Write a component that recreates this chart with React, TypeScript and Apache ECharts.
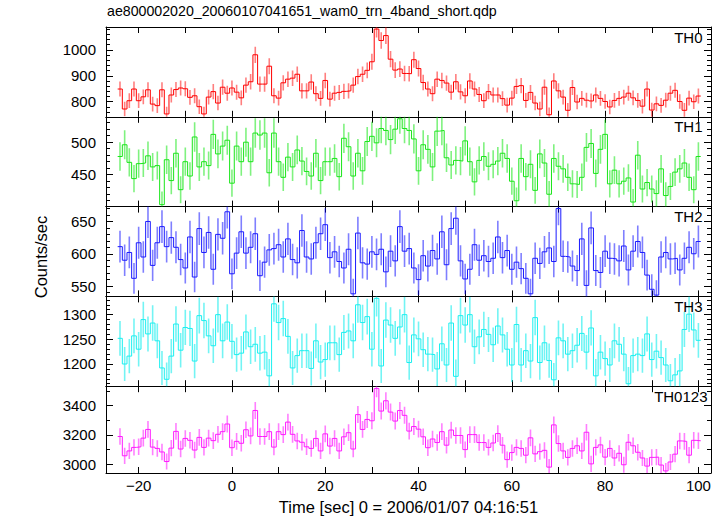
import React, { useEffect, useRef } from 'react';
import * as echarts from 'echarts';

const TITLE = 'ae800002020_20060107041651_wam0_trn_4band_short.qdp';
const X_NAME = 'Time [sec] 0 = 2006/01/07 04:16:51';
const Y_NAME = 'Counts/sec';
const T_START = -24; // centre of first 1-s bin
const BIN_SEC = 1;
const X_MIN = -27.0;
const X_MAX = 102.7;

const TH0 = [
  849, 772, 804, 849, 804, 819, 846, 791, 785, 846, 753, 826, 847, 853, 850, 817, 823, 781, 753, 818,
  839, 795, 856, 833, 853, 837, 815, 864, 877, 981, 868, 868, 937, 823, 814, 873, 887, 891, 906,
  842, 842, 876, 831, 813, 882, 810, 833, 836, 840, 842, 864, 897, 906, 921, 954, 1080, 1036, 1055, 964,
  922, 926, 909, 908, 962, 928, 874, 849, 831, 887, 882, 872, 837, 877, 838, 823, 880, 849, 828, 804, 839, 826,
  826, 812, 787, 814, 859, 862, 805, 836, 795, 772, 856, 750, 880, 842, 818, 767, 855, 799, 813, 806,
  803, 826, 813, 801, 780, 805, 813, 818, 833, 815, 805, 783, 849, 768, 792, 786, 806, 833, 844, 801,
  767, 814, 800, 822,
];
const TH1 = [
  478, 496, 469, 444, 467, 468, 479, 462, 464, 404, 473, 441, 483, 427, 470, 448, 508, 462, 470, 464,
  512, 482, 494, 503, 437, 494, 470, 500, 470, 514, 511, 514, 453, 514, 470, 446, 477, 462, 488, 471, 455,
  448, 483, 441, 470, 470, 475, 447, 506, 493, 448, 483, 456, 501, 509, 499, 521, 518, 504, 520, 536,
  521, 518, 505, 456, 496, 489, 462, 517, 518, 476, 465, 472, 471, 502, 470, 439, 472, 478, 463, 466,
  471, 483, 475,
  440, 410, 475, 447, 466, 426, 482, 468, 420, 475, 463, 459, 446, 436, 435, 446, 492, 498, 452, 489,
  512, 436, 457, 436, 440, 445, 408, 480, 428, 438, 428, 421, 459, 418, 432, 454, 459, 468, 446, 427, 478,
];
const TH2 = [
  611, 590, 602, 562, 617, 595, 650, 582, 617, 642, 611, 625, 610, 591, 578, 626, 564, 639, 602, 633,
  576, 630, 624, 665, 569, 601, 634, 601, 610, 631, 566, 587, 606, 608, 614, 595, 623, 591, 586, 636, 595,
  592, 617, 631, 645, 594, 603, 588, 578, 607, 538, 632, 586, 584, 603, 599, 607, 572, 604, 589, 642,
  604, 608, 578, 560, 597, 581, 605, 592, 634, 583, 639, 655, 589, 561, 576, 614, 590, 597, 588, 593,
  626, 594, 605,
  576, 587, 577, 562, 538, 593, 585, 603, 609, 588, 670, 596, 595, 581, 574, 623, 551, 640, 574, 571,
  604, 593, 592, 589, 612, 575, 604, 619, 602, 567, 545, 536, 595, 602, 592, 593, 575, 593, 610, 600, 619,
];
const TH3 = [
  1252, 1200, 1216, 1257, 1230, 1290, 1261, 1283, 1247, 1192, 1169, 1216, 1281, 1228, 1274, 1272, 1206, 1298, 1288, 1257,
  1237, 1300, 1247, 1285, 1246, 1219, 1222, 1265, 1235, 1240, 1222, 1224, 1176, 1322, 1284, 1292, 1256, 1192, 1217, 1227,
  1227, 1191, 1247, 1204, 1209, 1243, 1243, 1219, 1264, 1267, 1247, 1320, 1284, 1296, 1230, 1333, 1196, 1289, 1279, 1252,
  1275, 1300, 1203, 1259, 1251, 1229, 1220, 1219, 1190, 1241, 1198, 1283, 1175, 1298, 1279, 1300, 1235, 1255, 1270, 1260,
  1239, 1277, 1259, 1230, 1198,
  1280, 1198, 1227, 1206, 1294, 1203, 1243, 1207, 1168, 1253, 1247, 1220, 1227, 1238, 1262, 1224, 1273, 1176, 1224, 1211,
  1198, 1247, 1240, 1220, 1160, 1217, 1220, 1217, 1261, 1209, 1226, 1213, 1198, 1166, 1178, 1186, 1270, 1301, 1269, 1248,
];
const TH0123 = [
  3189, 3058, 3091, 3115, 3119, 3178, 3237, 3117, 3108, 3084, 3019, 3110, 3224, 3104, 3176, 3163, 3097, 3183, 3115, 3178,
  3161, 3204, 3222, 3274, 3113, 3156, 3143, 3235, 3193, 3366, 3189, 3189, 3222, 3117, 3222, 3202, 3287, 3204, 3159, 3150, 3119,
  3108, 3176, 3091, 3207, 3124, 3176, 3091, 3187, 3215, 3104, 3338, 3237, 3305, 3296, 3515, 3362, 3432, 3355, 3294, 3366,
  3333, 3226, 3257, 3239, 3187, 3113, 3172, 3148, 3222, 3130, 3233, 3196, 3196, 3100, 3202, 3202, 3148, 3148, 3115, 3145,
  3209, 3130, 3032,
  3080, 3115, 3108, 3062, 3180, 3071, 3086, 3095, 2981, 3268, 3141, 3091, 3047, 3108, 3126, 3091, 3218, 3003, 3115, 3132,
  3049, 3108, 3043, 3075, 2997, 3150, 3126, 3082, 3043, 2988, 3047, 3049, 2995, 2955, 3016, 3069, 3159, 3156, 3062, 3163, 3160,
];

const PANEL_NAMES = ['TH0', 'TH1', 'TH2', 'TH3', 'TH0123'];
const PANEL_VALUES = [TH0, TH1, TH2, TH3, TH0123];
const Y_MIN = [742, 401, 534, 1155, 2941];
const Y_MAX = [1088, 539, 673, 1337, 3531];
const Y_INTERVAL = [100, 50, 50, 50, 200];
const Y_MINOR_SPLIT = [5, 5, 5, 5, 2];
const LINE_COLORS = ['#ff0000', '#19e619', '#1a1aff', '#19f0f0', '#ff1aff'];
const ERR_COLORS = [
  'rgba(255,0,0,0.5)',
  'rgba(0,230,0,0.5)',
  'rgba(0,0,255,0.5)',
  'rgba(0,235,235,0.55)',
  'rgba(255,0,255,0.5)',
];
const LABEL_RIGHT = [702.5, 702.5, 702.5, 702.5, 707.5];

const FONT = '"Liberation Sans", Arial, Helvetica, sans-serif';

function fmtNum(v: number): string {
  return v < 0 ? '\u2212' + String(-v) : String(v);
}

export default function App() {
  const ref = useRef<HTMLDivElement>(null);

  useEffect(() => {
    const chart = echarts.init(ref.current!, null, { renderer: 'svg' });
    const LEFT = 106;
    const RIGHT = 16;
    const TOP = 27;
    const H = 89.8;
    const n = PANEL_NAMES.length;

    const grids: any[] = [];
    const xAxes: any[] = [];
    const yAxes: any[] = [];
    const series: any[] = [];
    const graphics: any[] = [];

    const axisLine = { show: true, onZero: false, lineStyle: { color: '#000', width: 1 } };

    for (let k = 0; k < n; k++) {
      grids.push({ left: LEFT, right: RIGHT, top: TOP + k * H, height: H, containLabel: false });
      const isBottom = k === n - 1;
      const xBase = {
        gridIndex: k,
        type: 'value',
        min: X_MIN,
        max: X_MAX,
        minInterval: 10,
        maxInterval: 10,
        axisLine,
        axisTick: { show: true, inside: true, length: 6, lineStyle: { color: '#000', width: 1 } },
        splitLine: { show: false },
      };
      xAxes.push({
        ...xBase,
        position: 'bottom',
        axisLabel: {
          show: isBottom,
          color: '#000',
          fontSize: 15,
          fontFamily: FONT,
          margin: 5,
          formatter: (v: number) => (Math.abs(v % 20) < 1e-6 ? fmtNum(Math.round(v)) : ''),
        },
        name: isBottom ? X_NAME : '',
        nameLocation: 'middle',
        nameGap: 25,
        nameTextStyle: { color: '#000', fontSize: 16.5, fontFamily: FONT },
      });
      xAxes.push({ ...xBase, position: 'top', axisLabel: { show: false } });

      const iv = Y_INTERVAL[k];
      const yBase = {
        gridIndex: k,
        type: 'value',
        min: Y_MIN[k],
        max: Y_MAX[k],
        minInterval: iv,
        maxInterval: iv,
        axisLine,
        axisTick: { show: true, inside: true, length: 7, lineStyle: { color: '#000', width: 1 } },
        minorTick: { show: true, splitNumber: Y_MINOR_SPLIT[k], length: 4, lineStyle: { color: '#000', width: 1 } },
        splitLine: { show: false },
        minorSplitLine: { show: false },
      };
      yAxes.push({
        ...yBase,
        position: 'left',
        axisLabel: {
          color: '#000',
          fontSize: 15,
          fontFamily: FONT,
          margin: 10,
          formatter: (v: number) => (Math.abs(v / iv - Math.round(v / iv)) < 1e-6 ? fmtNum(v) : ''),
        },
      });
      yAxes.push({ ...yBase, position: 'right', axisLabel: { show: false } });

      const vals = PANEL_VALUES[k];
      const times = vals.map((_, i) => T_START + i * BIN_SEC);
      const stepData = vals.map((v, i) => [times[i] - BIN_SEC / 2, v]);
      stepData.push([times[times.length - 1] + BIN_SEC / 2, vals[vals.length - 1]]);

      const errColor = ERR_COLORS[k];
      series.push({
        type: 'custom',
        name: PANEL_NAMES[k] + ' err',
        xAxisIndex: 2 * k,
        yAxisIndex: 2 * k,
        clip: true,
        silent: true,
        z: 2,
        data: vals.map((v, i) => [times[i], v]),
        renderItem: (params: any, api: any) => {
          const t = api.value(0);
          const v = api.value(1);
          const e = Math.sqrt(v * BIN_SEC) / BIN_SEC;
          const a = api.coord([t, v - e]);
          const b = api.coord([t, v + e]);
          return {
            type: 'line',
            shape: { x1: a[0], y1: a[1], x2: b[0], y2: b[1] },
            style: { stroke: errColor, lineWidth: 1.6 },
          };
        },
      });
      series.push({
        type: 'line',
        name: PANEL_NAMES[k],
        xAxisIndex: 2 * k,
        yAxisIndex: 2 * k,
        step: 'end',
        showSymbol: false,
        symbol: 'none',
        silent: true,
        z: 3,
        lineStyle: { color: LINE_COLORS[k], width: 1 },
        data: stepData,
      });

      graphics.push({
        type: 'text',
        x: LABEL_RIGHT[k],
        y: TOP + k * H + 2.5,
        style: {
          text: PANEL_NAMES[k],
          align: 'right',
          verticalAlign: 'top',
          fontSize: 15,
          fontFamily: FONT,
          fill: '#000',
        },
        z: 10,
      });
    }

    graphics.push({
      type: 'text',
      x: 41,
      y: 257,
      rotation: Math.PI / 2,
      style: {
        text: Y_NAME,
        align: 'center',
        verticalAlign: 'middle',
        fontSize: 16.5,
        fontFamily: FONT,
        fill: '#000',
      },
    });

    chart.setOption({
      animation: false,
      backgroundColor: '#fff',
      title: {
        text: TITLE,
        left: 107,
        top: 4,
        padding: 0,
        textStyle: { fontSize: 14.2, fontWeight: 'normal', fontFamily: FONT, color: '#000' },
      },
      grid: grids,
      xAxis: xAxes,
      yAxis: yAxes,
      series,
      graphic: graphics,
    });

    return () => chart.dispose();
  }, []);

  return (
    <div
      ref={ref}
      style={{ position: 'fixed', left: 0, top: 0, width: 727, height: 516, background: '#fff' }}
    />
  );
}
